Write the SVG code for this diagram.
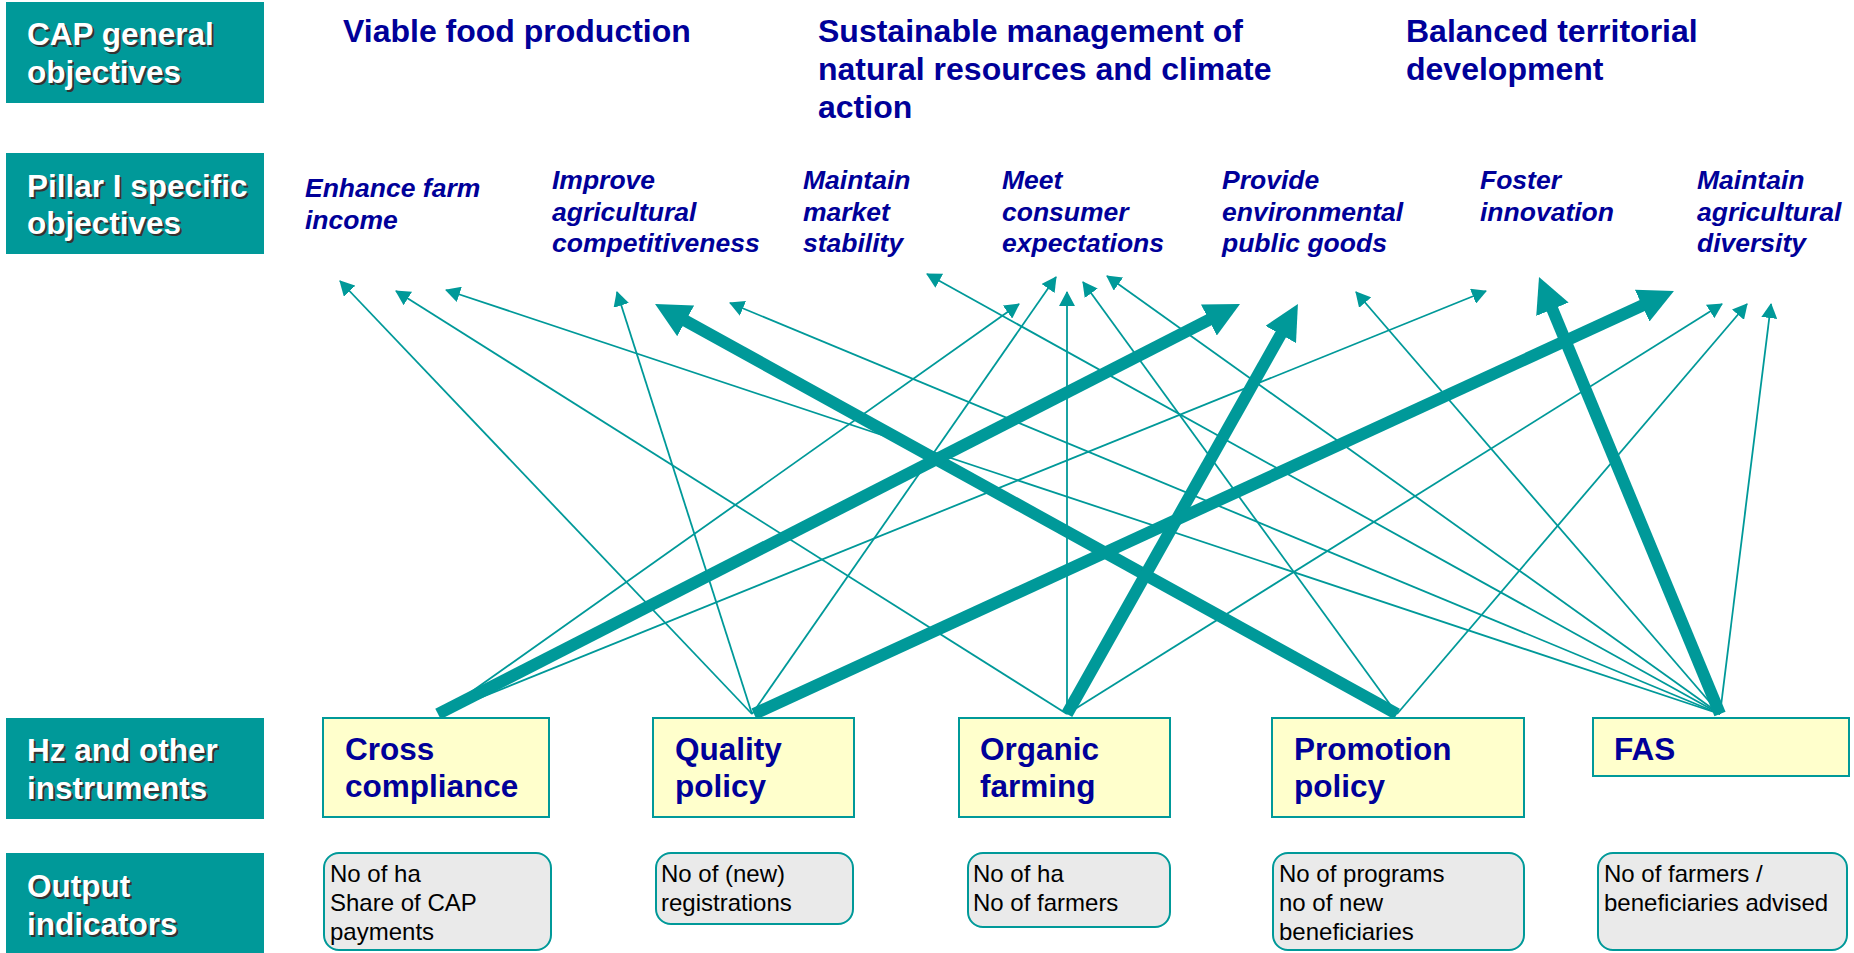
<svg xmlns="http://www.w3.org/2000/svg" width="1854" height="953" viewBox="0 0 1854 953">
<defs>
<style>
.lbl rect{fill:#009999}
.lbl text{font-family:"Liberation Sans",Arial,sans-serif;font-weight:bold;font-size:31.5px}
.lbl .sh{fill:#333333}
.lbl .fg{fill:#ffffff}
.title{font-family:"Liberation Sans",Arial,sans-serif;font-weight:bold;font-size:32px;fill:#000099}
.obj{font-family:"Liberation Sans",Arial,sans-serif;font-weight:bold;font-style:italic;font-size:26.5px;fill:#000099}
.inst rect{fill:#ffffcc;stroke:#009999;stroke-width:2}
.inst text{font-family:"Liberation Sans",Arial,sans-serif;font-weight:bold;font-size:31.5px;fill:#000099}
.out rect{fill:#eaeaea;stroke:#009999;stroke-width:2}
.out text{font-family:"Liberation Sans",Arial,sans-serif;font-size:24px;fill:#000000}
.thin{stroke:#009999;stroke-width:1.8;fill:none;marker-end:url(#ah)}
.thick{stroke:#009999;stroke-width:12;fill:none;marker-end:url(#ahb)}
</style>
<marker id="ah" markerUnits="userSpaceOnUse" viewBox="0 0 15 16" markerWidth="15" markerHeight="16" refX="14" refY="8" orient="auto">
<path d="M0,0 L15,8 L0,16 z" fill="#009999"/>
</marker>
<marker id="ahb" markerUnits="userSpaceOnUse" viewBox="0 0 35 35" markerWidth="35" markerHeight="35" refX="5" refY="17.5" orient="auto">
<path d="M0,0 L35,17.5 L0,35 z" fill="#009999"/>
</marker>
</defs>
<rect width="1854" height="953" fill="#ffffff"/>

<g id="label-cap" class="lbl">
<rect x="6" y="2" width="258" height="101"/>
<text class="sh" x="29" y="47">CAP general</text><text class="sh" x="29" y="85">objectives</text>
<text class="fg" x="27" y="45">CAP general</text><text class="fg" x="27" y="83">objectives</text>
</g>
<g id="label-pillar" class="lbl">
<rect x="6" y="153" width="258" height="101"/>
<text class="sh" x="29" y="199">Pillar I specific</text><text class="sh" x="29" y="236">objectives</text>
<text class="fg" x="27" y="197">Pillar I specific</text><text class="fg" x="27" y="234">objectives</text>
</g>
<g id="label-hz" class="lbl">
<rect x="6" y="718" width="258" height="101"/>
<text class="sh" x="29" y="763">Hz and other</text><text class="sh" x="29" y="801">instruments</text>
<text class="fg" x="27" y="761">Hz and other</text><text class="fg" x="27" y="799">instruments</text>
</g>
<g id="label-output" class="lbl">
<rect x="6" y="853" width="258" height="102"/>
<text class="sh" x="29" y="899">Output</text><text class="sh" x="29" y="937">indicators</text>
<text class="fg" x="27" y="897">Output</text><text class="fg" x="27" y="935">indicators</text>
</g>

<g id="gen-viable"><text class="title" x="343" y="42">Viable food production</text></g>
<g id="gen-sustainable"><text class="title" x="818" y="42">Sustainable management of</text><text class="title" x="818" y="80">natural resources and climate</text><text class="title" x="818" y="118">action</text></g>
<g id="gen-balanced"><text class="title" x="1406" y="42">Balanced territorial</text><text class="title" x="1406" y="80">development</text></g>

<g id="obj-income"><text class="obj" x="305" y="197">Enhance farm</text><text class="obj" x="305" y="229">income</text></g>
<g id="obj-competitiveness"><text class="obj" x="552" y="189">Improve</text><text class="obj" x="552" y="221">agricultural</text><text class="obj" x="552" y="252">competitiveness</text></g>
<g id="obj-market"><text class="obj" x="803" y="189">Maintain</text><text class="obj" x="803" y="221">market</text><text class="obj" x="803" y="252">stability</text></g>
<g id="obj-consumer"><text class="obj" x="1002" y="189">Meet</text><text class="obj" x="1002" y="221">consumer</text><text class="obj" x="1002" y="252">expectations</text></g>
<g id="obj-environment"><text class="obj" x="1222" y="189">Provide</text><text class="obj" x="1222" y="221">environmental</text><text class="obj" x="1222" y="252">public goods</text></g>
<g id="obj-innovation"><text class="obj" x="1480" y="189">Foster</text><text class="obj" x="1480" y="221">innovation</text></g>
<g id="obj-diversity"><text class="obj" x="1697" y="189">Maintain</text><text class="obj" x="1697" y="221">agricultural</text><text class="obj" x="1697" y="252">diversity</text></g>

<g id="connectors">
<line class="thin" x1="752" y1="714" x2="340" y2="281"/>
<line class="thin" x1="752" y1="714" x2="617" y2="292"/>
<line class="thin" x1="752" y1="714" x2="1056" y2="277"/>
<line class="thin" x1="440" y1="714" x2="1019" y2="304"/>
<line class="thin" x1="440" y1="714" x2="1486" y2="291"/>
<line class="thin" x1="1067" y1="714" x2="396" y2="291"/>
<line class="thin" x1="1067" y1="714" x2="1067" y2="292"/>
<line class="thin" x1="1067" y1="714" x2="1722" y2="304"/>
<line class="thin" x1="1397" y1="714" x2="1083" y2="282"/>
<line class="thin" x1="1397" y1="714" x2="1747" y2="304"/>
<line class="thin" x1="1720" y1="714" x2="446" y2="290"/>
<line class="thin" x1="1720" y1="714" x2="730" y2="303"/>
<line class="thin" x1="1720" y1="714" x2="927" y2="274"/>
<line class="thin" x1="1720" y1="714" x2="1107" y2="276"/>
<line class="thin" x1="1720" y1="714" x2="1356" y2="292"/>
<line class="thin" x1="1720" y1="714" x2="1771" y2="304"/>
<line class="thick" x1="1397" y1="714" x2="681.3" y2="318.5"/>
<line class="thick" x1="438" y1="714" x2="1213.3" y2="317.7"/>
<line class="thick" x1="1067" y1="714" x2="1283.2" y2="330.1"/>
<line class="thick" x1="1720" y1="714" x2="1550.5" y2="304.7"/>
<line class="thick" x1="754" y1="714" x2="1646.7" y2="303.5"/>
</g>

<g id="inst-cross" class="inst"><rect x="323" y="718" width="226" height="99"/><text x="345" y="760">Cross</text><text x="345" y="797">compliance</text></g>
<g id="inst-quality" class="inst"><rect x="653" y="718" width="201" height="99"/><text x="675" y="760">Quality</text><text x="675" y="797">policy</text></g>
<g id="inst-organic" class="inst"><rect x="959" y="718" width="211" height="99"/><text x="980" y="760">Organic</text><text x="980" y="797">farming</text></g>
<g id="inst-promotion" class="inst"><rect x="1272" y="718" width="252" height="99"/><text x="1294" y="760">Promotion</text><text x="1294" y="797">policy</text></g>
<g id="inst-fas" class="inst"><rect x="1593" y="718" width="256" height="58"/><text x="1614" y="760">FAS</text></g>

<g id="out-cross" class="out"><rect x="324" y="853" width="227" height="97" rx="15"/><text x="330" y="882">No of ha</text><text x="330" y="911">Share of CAP</text><text x="330" y="940">payments</text></g>
<g id="out-quality" class="out"><rect x="656" y="853" width="197" height="71" rx="15"/><text x="661" y="882">No of (new)</text><text x="661" y="911">registrations</text></g>
<g id="out-organic" class="out"><rect x="968" y="853" width="202" height="74" rx="15"/><text x="973" y="882">No of ha</text><text x="973" y="911">No of farmers</text></g>
<g id="out-promotion" class="out"><rect x="1273" y="853" width="251" height="97" rx="15"/><text x="1279" y="882">No of programs</text><text x="1279" y="911">no of new</text><text x="1279" y="940">beneficiaries</text></g>
<g id="out-fas" class="out"><rect x="1598" y="853" width="249" height="97" rx="15"/><text x="1604" y="882">No of farmers /</text><text x="1604" y="911">beneficiaries advised</text></g>
</svg>
